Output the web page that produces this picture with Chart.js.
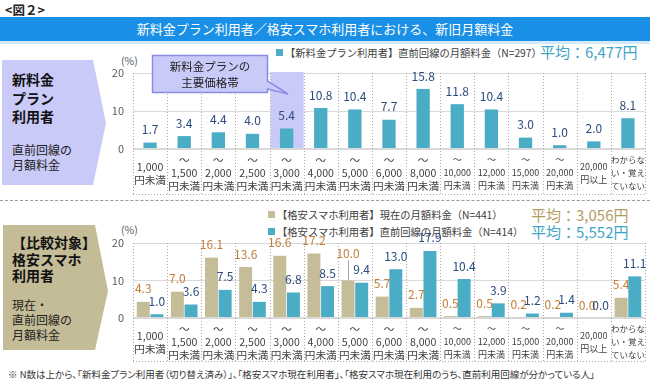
<!DOCTYPE html>
<html lang="ja">
<head>
<meta charset="utf-8">
<script src="https://cdn.jsdelivr.net/npm/chart.js@4"></script>
<style>
  body { margin: 0; width: 650px; height: 385px; position: relative; overflow: hidden; background: #fff;
         font-family: 'Noto Sans CJK JP', sans-serif; color: #333; }
  .abs { position: absolute; white-space: nowrap; }
  #banner { position: absolute; left: 0; top: 17px; width: 650px; height: 24px; line-height: 24px;
            background: #1a8fe6; color: #fff; text-align: center; font-size: 13px; border-bottom: 3px solid #d4e9fa; }
  .box { position: absolute; }
  .big { font-size: 14px; font-weight: bold; color: #111; }
  .small { font-size: 12px; color: #222; }
  .pct { font-size: 10.5px; color: #595959; }
  .leg { font-size: 10.3px; color: #404040; }
  .sq { display: inline-block; width: 7px; height: 7px; margin-right: 2px; vertical-align: 1px; }
  .avg { font-size: 15px; }
  canvas { position: absolute; }
</style>
</head>
<body>
<div class="abs" style="left:5px;top:0px;font-size:12.5px;font-weight:bold;color:#222">&lt;図２&gt;</div>
<div id="banner">新料金プラン利用者／格安スマホ利用者における、新旧月額料金</div>

<!-- top section -->
<div class="box" style="left:2px;top:60px;width:105px;height:125px;background:#cacaf8;clip-path:polygon(0 0,91px 0,104px 63px,91px 125px,0 125px)"></div>
<div class="abs big" style="left:12px;top:70px;line-height:18.5px">新料金<br>プラン<br>利用者</div>
<div class="abs small" style="left:12px;top:142px;line-height:15px">直前回線の<br>月額料金</div>
<div class="abs pct" style="left:121px;top:53px">(%)</div>
<div class="abs leg" style="left:276px;top:45px"><span class="sq" style="background:#4bacc6"></span>【新料金プラン利用者】直前回線の月額料金（N=297）</div>
<div class="abs avg" style="left:540px;top:41px;color:#3ea6c4">平均：6,477円</div>

<!-- dashed separator -->
<div class="abs" style="left:0;top:200px;width:650px;border-top:1.5px dashed #9a9a9a"></div>

<!-- bottom section -->
<div class="box" style="left:3px;top:225px;width:106px;height:125px;background:#c4bc96;clip-path:polygon(0 0,92px 0,105px 66px,92px 125px,0 125px)"></div>
<div class="abs big" style="left:12px;top:234px;line-height:16.5px">【比較対象】<br>格安スマホ<br>利用者</div>
<div class="abs small" style="left:12px;top:297px;line-height:15px">現在・<br>直前回線の<br>月額料金</div>
<div class="abs pct" style="left:121px;top:222px">(%)</div>
<div class="abs leg" style="left:268px;top:207px"><span class="sq" style="background:#c4bd97"></span>【格安スマホ利用者】現在の月額料金（N=441）</div>
<div class="abs leg" style="left:268px;top:224px"><span class="sq" style="background:#4bacc6"></span>【格安スマホ利用者】直前回線の月額料金（N=414）</div>
<div class="abs avg" style="left:531px;top:204px;color:#b49d63">平均：3,056円</div>
<div class="abs avg" style="left:531px;top:221px;color:#3ea6c4">平均：5,552円</div>

<div class="abs" style="left:8px;top:367px;font-size:9.5px;color:#333;font-feature-settings:'palt'">※ N数は上から、「新料金プラン利用者（切り替え済み）」、「格安スマホ現在利用者」、「格安スマホ現在利用のうち、直前利用回線が分かっている人」</div>

<canvas id="topChart" width="548" height="140" style="left:100px;top:55px"></canvas>
<canvas id="bottomChart" width="548" height="137" style="left:100px;top:225px"></canvas>

<!-- callout over the top chart -->
<svg class="abs" style="left:0;top:0" width="650" height="200">
  <path d="M152.5 55.5 H267.5 V81 L288 94 L267.5 89 V92.5 H152.5 Z" fill="#cacaf8" stroke="#8c8ce6" stroke-width="1.5"/>
</svg>
<div class="abs" style="left:152px;top:58px;width:116px;text-align:center;font-size:11.5px;line-height:16px;color:#222">新料金プランの<br>主要価格帯</div>

<script>
// price bands (x categories)
const priceBands = [
  ['1,000', '円未満'], ['～', '1,500', '円未満'], ['～', '2,000', '円未満'], ['～', '2,500', '円未満'],
  ['～', '3,000', '円未満'], ['～', '4,000', '円未満'], ['～', '5,000', '円未満'], ['～', '6,000', '円未満'],
  ['～', '8,000', '円未満'], ['～', '10,000', '円未満'], ['～', '12,000', '円未満'], ['～', '15,000', '円未満'],
  ['～', '20,000', '円未満'], ['20,000', '円以上'], ['わからな', 'い・覚え', 'ていない']
];
// % of users
const newPlanPrev = [1.7, 3.4, 4.4, 4.0, 5.4, 10.8, 10.4, 7.7, 15.8, 11.8, 10.4, 3.0, 1.0, 2.0, 8.1];
const mvnoNow     = [4.3, 7.0, 16.1, 13.6, 16.6, 17.2, 10.0, 5.7, 2.7, 0.5, 0.5, 0.2, 0.2, 0.0, 5.4];
const mvnoPrev    = [1.0, 3.6, 7.5, 4.3, 6.8, 8.5, 9.4, 13.0, 17.9, 10.4, 3.9, 1.2, 1.4, 0.0, 11.1];
const yTicks = [0, 10, 20];
const mainBand = 4; // 新料金プランの主要価格帯

const FONT = "'Noto Sans CJK JP', sans-serif";
const TEAL = '#4bacc6';
const TAN = '#c4bd97';

// dotted column borders that run down through the label area
const columnLines = {
  id: 'columnLines',
  beforeDatasetsDraw(chart) {
    const x = chart.scales.x, area = chart.chartArea, ctx = chart.ctx;
    const half = (x.getPixelForValue(1) - x.getPixelForValue(0)) / 2;
    const bottom = x.bottom - 0.5;
    ctx.save();
    ctx.strokeStyle = '#a9a9a9';
    ctx.lineWidth = 1;
    ctx.setLineDash([1, 2]);
    ctx.beginPath();
    for (let i = 0; i <= priceBands.length; i++) {
      const px = Math.round(x.getPixelForValue(i) - half) + 0.5;
      ctx.moveTo(px, area.top);
      ctx.lineTo(px, bottom);
    }
    ctx.moveTo(area.left, bottom);
    ctx.lineTo(area.right, bottom);
    ctx.stroke();
    ctx.restore();
  }
};

// shaded column for the main price band
const bandShade = {
  id: 'bandShade',
  beforeDatasetsDraw(chart) {
    const x = chart.scales.x, area = chart.chartArea, ctx = chart.ctx;
    const half = (x.getPixelForValue(1) - x.getPixelForValue(0)) / 2;
    const c = x.getPixelForValue(mainBand);
    ctx.save();
    ctx.fillStyle = '#cacaf8';
    ctx.fillRect(c - half + 1, area.top - 1, half * 2 - 1, area.bottom - area.top);
    ctx.restore();
  }
};

// numbers over the bars
const valueLabels = {
  id: 'valueLabels',
  afterDatasetsDraw(chart) {
    const ctx = chart.ctx;
    ctx.save();
    ctx.font = '12px ' + FONT;
    ctx.textAlign = 'center';
    ctx.textBaseline = 'middle';
    const sets = chart.data.datasets;
    for (let j = 0; j < priceBands.length; j++) {
      const items = sets.map((ds, i) => {
        const bar = chart.getDatasetMeta(i).data[j];
        const text = ds.data[j].toFixed(1);
        return { x: bar.x, top: bar.y, y: bar.y - 13, text: text, w: ctx.measureText(text).width, color: ds.labelColor };
      });
      if (items.length === 2) {
        const a = items[0], b = items[1];
        const overlap = (a.x + a.w / 2) - (b.x - b.w / 2);
        if (overlap > 4 && Math.abs(a.y - b.y) < 12) {
          a.y = Math.min(a.y, b.y) - 14;
          ctx.strokeStyle = '#a6a6a6';
          ctx.lineWidth = 1;
          ctx.beginPath();
          ctx.moveTo(Math.round(a.x) + 0.5, a.y + 7);
          ctx.lineTo(Math.round(a.x) + 0.5, a.top);
          ctx.stroke();
        }
      }
      items.forEach(it => {
        ctx.fillStyle = it.color;
        ctx.fillText(it.text, it.x, it.y);
      });
    }
    ctx.restore();
  }
};

function makeOptions(axisHeight) {
  return {
    responsive: false,
    animation: false,
    layout: { padding: { top: 18, right: 2, left: 0, bottom: 0 } },
    plugins: { legend: { display: false }, tooltip: { enabled: false } },
    scales: {
      x: {
        grid: { display: false },
        border: { display: false },
        ticks: {
          autoSkip: false,
          maxRotation: 0,
          crossAlign: 'center',
          padding: 3,
          color: '#404040',
          font: c => ({ family: FONT, size: c.index < 9 ? 10.6 : (c.index === 14 ? 8.5 : 9), lineHeight: '13px' })
        },
        afterFit: s => { s.height = axisHeight; }
      },
      y: {
        min: 0,
        max: 20,
        afterBuildTicks: s => { s.ticks = yTicks.map(v => ({ value: v })); },
        border: { display: false },
        grid: {
          drawTicks: false,
          color: '#d9d9d9',
          lineWidth: c => (c.tick && c.tick.value === 0 ? 2 : 1)
        },
        ticks: { padding: 9, color: '#595959', font: { family: FONT, size: 11 } },
        afterFit: s => { s.width = 33; }
      }
    }
  };
}

new Chart(document.getElementById('topChart'), {
  type: 'bar',
  data: {
    labels: priceBands,
    datasets: [{
      label: '【新料金プラン利用者】直前回線の月額料金（N=297）',
      data: newPlanPrev,
      backgroundColor: TEAL,
      labelColor: '#2b4c7e',
      categoryPercentage: 1,
      barPercentage: 0.39
    }]
  },
  options: makeOptions(46),
  plugins: [bandShade, columnLines, valueLabels]
});

new Chart(document.getElementById('bottomChart'), {
  type: 'bar',
  data: {
    labels: priceBands,
    datasets: [{
      label: '【格安スマホ利用者】現在の月額料金（N=441）',
      data: mvnoNow,
      backgroundColor: TAN,
      labelColor: '#c27d38',
      categoryPercentage: 0.8,
      barPercentage: 0.95
    }, {
      label: '【格安スマホ利用者】直前回線の月額料金（N=414）',
      data: mvnoPrev,
      backgroundColor: TEAL,
      labelColor: '#2b4c7e',
      categoryPercentage: 0.8,
      barPercentage: 0.95
    }]
  },
  options: makeOptions(44),
  plugins: [columnLines, valueLabels]
});
</script>
</body>
</html>
